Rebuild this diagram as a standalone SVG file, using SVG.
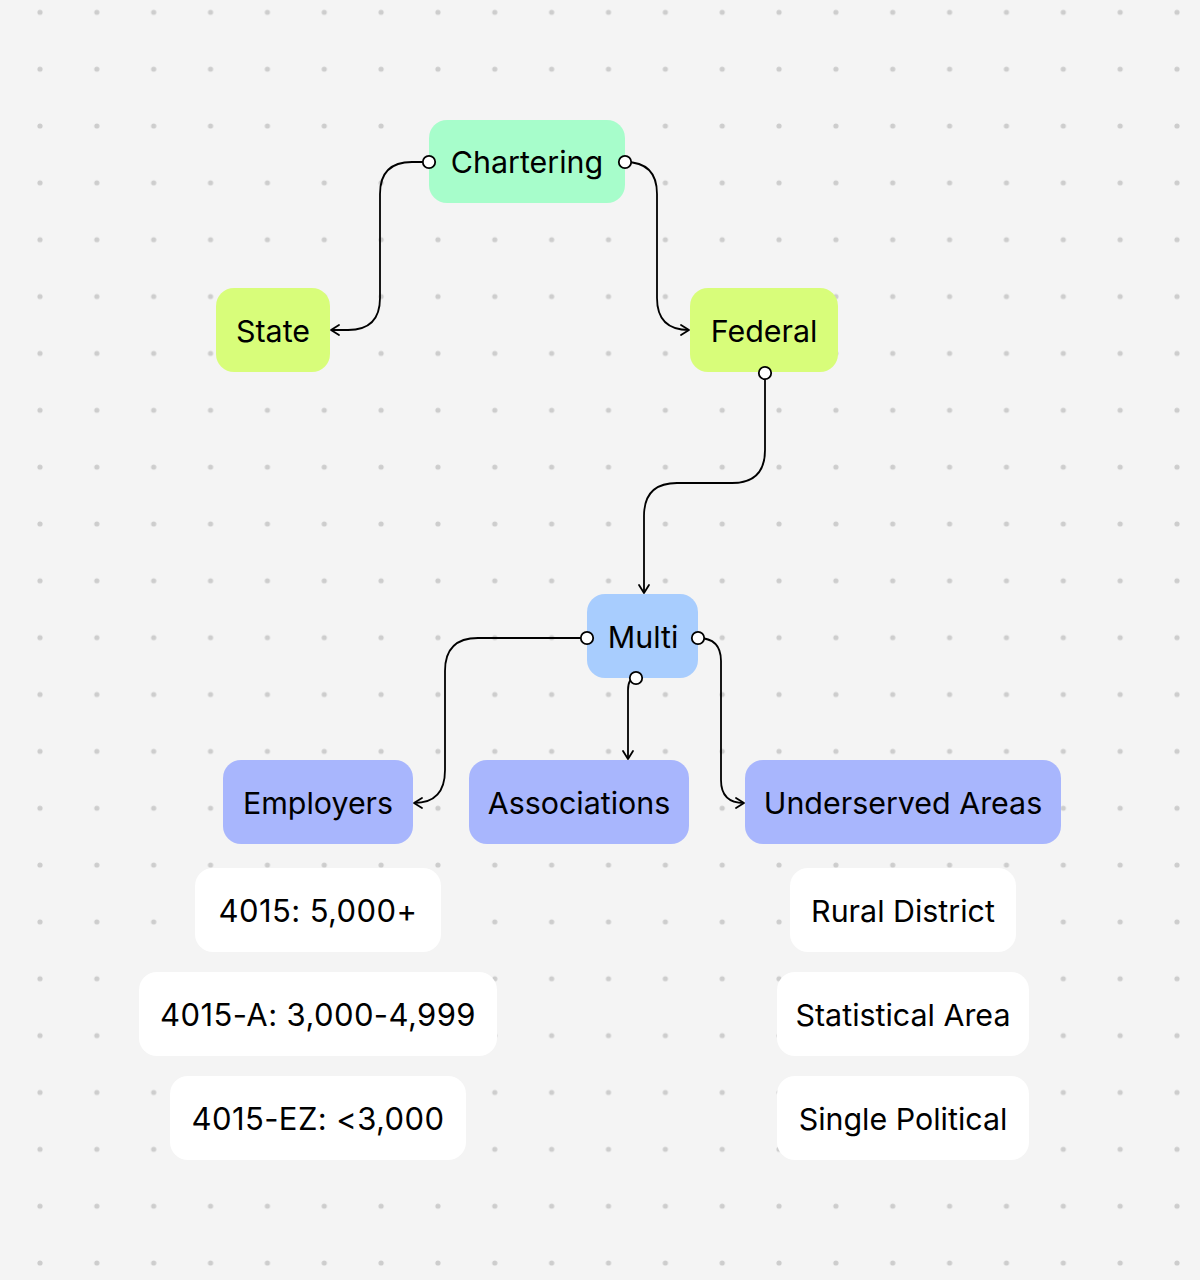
<svg xmlns="http://www.w3.org/2000/svg" width="1200" height="1280" viewBox="0 0 1200 1280">
  <defs>
    <pattern id="dots" x="40" y="12.3" width="56.85" height="56.85" patternUnits="userSpaceOnUse">
      <circle cx="0" cy="0" r="2.6" fill="#cdcdcd"/>
      <circle cx="56.85" cy="0" r="2.6" fill="#cdcdcd"/>
      <circle cx="0" cy="56.85" r="2.6" fill="#cdcdcd"/>
      <circle cx="56.85" cy="56.85" r="2.6" fill="#cdcdcd"/>
    </pattern>
    <marker id="arrow" viewBox="0 0 14 14" refX="12" refY="7" markerWidth="14" markerHeight="14" markerUnits="userSpaceOnUse" orient="auto">
      <path d="M4,2 L12,7 L4,12" fill="none" stroke="#000" stroke-width="1.8" stroke-linecap="round" stroke-linejoin="round"/>
    </marker>
    <marker id="dot" viewBox="0 0 16 16" refX="8" refY="8" markerWidth="16" markerHeight="16" markerUnits="userSpaceOnUse" orient="auto">
      <circle cx="8" cy="8" r="6.2" fill="#fff" stroke="#000" stroke-width="1.8"/>
    </marker>
  </defs>
  <style>
    .lbl { font-family: "Inter", "Liberation Sans", sans-serif; font-size: 30.4px; fill: #000; text-anchor: middle; }
    .num { font-size: 31px; letter-spacing: 0.4px; }
    .edge { fill: none; stroke: #000; stroke-width: 1.8; marker-start: url(#dot); marker-end: url(#arrow); }
    .mint { fill: #a7fdcb; }
    .lime { fill: #d8fd7a; }
    .sky { fill: #a8cdfe; }
    .peri { fill: #a8b6fd; }
    .white { fill: #ffffff; }
  </style>
  <rect x="0" y="0" width="1200" height="1280" fill="#f4f4f4"/>
  <rect x="0" y="0" width="1200" height="1280" fill="url(#dots)"/>

  <g id="node-chartering">
    <rect class="mint" x="429" y="120" width="196" height="83" rx="18"/>
    <text class="lbl" x="527" y="173">Chartering</text>
  </g>
  <g id="node-state">
    <rect class="lime" x="216" y="288" width="114" height="84" rx="18"/>
    <text class="lbl" x="273" y="342">State</text>
  </g>
  <g id="node-federal">
    <rect class="lime" x="690" y="288" width="148" height="84" rx="18"/>
    <text class="lbl" x="764" y="342">Federal</text>
  </g>
  <g id="node-multi">
    <rect class="sky" x="587" y="594" width="111" height="84" rx="18"/>
    <text class="lbl" x="643" y="648">Multi</text>
  </g>
  <g id="node-employers">
    <rect class="peri" x="223" y="760" width="190" height="84" rx="18"/>
    <text class="lbl" x="318" y="814">Employers</text>
  </g>
  <g id="node-associations">
    <rect class="peri" x="469" y="760" width="220" height="84" rx="18"/>
    <text class="lbl" x="579" y="814">Associations</text>
  </g>
  <g id="node-underserved">
    <rect class="peri" x="745" y="760" width="316" height="84" rx="18"/>
    <text class="lbl" x="903" y="814">Underserved Areas</text>
  </g>
  <g id="node-4015">
    <rect class="white" x="195" y="868" width="246" height="84" rx="18"/>
    <text class="lbl num" x="318" y="922">4015: 5,000+</text>
  </g>
  <g id="node-4015a">
    <rect class="white" x="139" y="972" width="358" height="84" rx="18"/>
    <text class="lbl num" x="318" y="1026">4015-A: 3,000-4,999</text>
  </g>
  <g id="node-4015ez">
    <rect class="white" x="170" y="1076" width="296" height="84" rx="18"/>
    <text class="lbl num" x="318" y="1130">4015-EZ: &lt;3,000</text>
  </g>
  <g id="node-rural">
    <rect class="white" x="790" y="868" width="226" height="84" rx="18"/>
    <text class="lbl" x="903" y="922">Rural District</text>
  </g>
  <g id="node-statistical">
    <rect class="white" x="777" y="972" width="252" height="84" rx="18"/>
    <text class="lbl" x="903" y="1026">Statistical Area</text>
  </g>
  <g id="node-single">
    <rect class="white" x="777" y="1076" width="252" height="84" rx="18"/>
    <text class="lbl" x="903" y="1130">Single Political</text>
  </g>

  <g id="connectors">
    <path class="edge" d="M429,162 H412 Q380,162 380,194 V298 Q380,330 348,330 H331"/>
    <path class="edge" d="M625,162 Q657,162 657,194 V298 Q657,330 689,330"/>
    <path class="edge" d="M765,373 V450 Q765,483 732,483 H677 Q644,483 644,516 V593"/>
    <path class="edge" d="M587,638 H478 Q445,638 445,671 V770 Q445,803 414,803"/>
    <path class="edge" d="M636,678 C630,678 628,682 628,690 V759"/>
    <path class="edge" d="M698,638 Q721,638 721,661 V780 Q721,803 744,803"/>
  </g>
</svg>
